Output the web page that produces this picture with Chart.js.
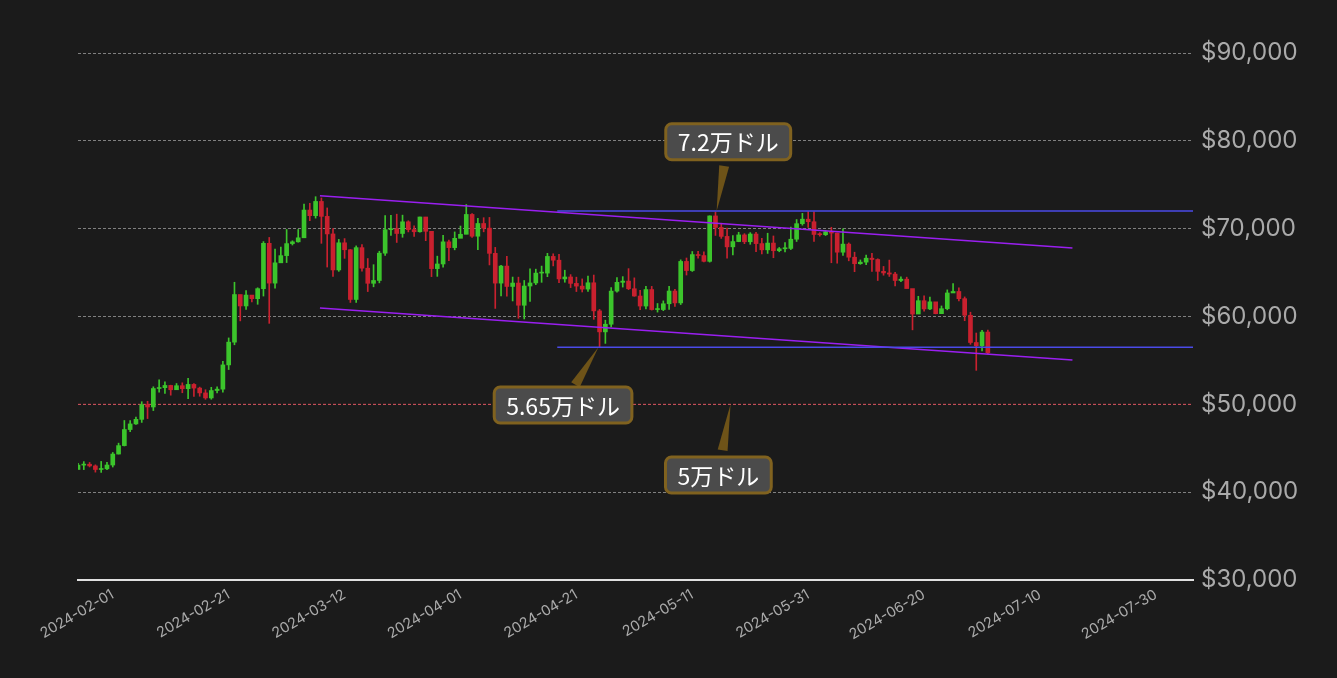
<!DOCTYPE html>
<html>
<head>
<meta charset="utf-8">
<script src="https://cdn.jsdelivr.net/npm/chart.js@4"></script>
<style>
  html, body { margin: 0; padding: 0; background: #1b1b1b; }
  #wrap { width: 1337px; height: 678px; }
</style>
</head>
<body>
<div id="wrap"><canvas id="c"></canvas></div>
<script>
// daily candles, first one at 2024-01-26 on the chart's axis
const firstDay = -6;
const tickDays = [0, 20, 40, 60, 80, 100, 120, 140, 160, 180];
const tickLabels = ['2024-02-01', '2024-02-21', '2024-03-12', '2024-04-01', '2024-04-21',
  '2024-05-11', '2024-05-31', '2024-06-20', '2024-07-10', '2024-07-30'];

const closes = [
  43080,43180,42990,42580,42660,43090,44340,45300,47130,47770,48290,49960,49700,51800,51900,52150,51660,52120,51780,52270,51850,51300,50730,51570,51730,54490,57080,62500,61200,
  62440,62030,63170,68330,63800,66110,66930,68300,68500,68960,72120,71480,73100,71400,69400,65300,68390,67600,61940,67840,65500,63780,64100,67210,69880,69990,69450,70780,69890,69650,71330,
  69700,65450,65980,68500,67840,68900,69360,71620,69140,70590,70060,67190,63800,65740,63420,63810,61280,63470,63820,64940,64940,66840,66410,64280,64500,63770,63460,63120,63840,60640,
  58250,59120,62890,63890,64030,63160,62330,61190,63070,60790,60790,61450,62900,61550,66270,65230,67050,66940,66280,71450,70140,69120,67930,68530,69290,68510,69390,68300,67590,68360,67490,
  67710,67750,68800,70570,71080,70790,69340,69310,69650,69500,67320,68240,66750,66010,66190,66640,66490,65140,64960,64830,64100,64250,63180,60280,61800,60860,61670,60320,60890,62680,
  62850,62030,60140,57040,56660,58230,55860
];
const opens = [
  42580,43080,43180,42990,42580,42660,43090,44340,45300,47130,47770,48290,49960,49700,51800,51900,52150,51660,52120,51780,52270,51850,51300,50730,51570,51730,54490,57080,62500,
  61200,62440,62030,63170,68330,63800,66110,66930,68300,68500,68960,72120,71480,73100,71400,69400,65300,68390,67600,61940,67840,65500,63780,64100,67210,69880,69990,69450,70780,69890,69650,
  71330,69700,65450,65980,68500,67840,68900,69360,71620,69140,70590,70060,67190,63800,65740,63420,63810,61280,63470,63820,64940,64940,66840,66410,64280,64500,63770,63460,63120,63840,
  60640,58250,59120,62890,63890,64030,63160,62330,61190,63070,60790,60790,61450,62900,61550,66270,65230,67050,66940,66280,71450,70140,69120,67930,68530,69290,68510,69390,68300,67590,68360,
  67490,67710,67750,68800,70570,71080,70790,69340,69310,69650,69500,67320,68240,66750,66010,66190,66640,66490,65140,64960,64830,64100,64250,63180,60280,61800,60860,61670,60320,60890,
  62680,62850,62030,60140,57040,56660,58230
];
const highs = [
  43290,43480,43380,43110,43500,43390,44520,45580,48160,48150,48540,50300,50350,52000,52800,52560,52180,52370,52450,52960,52370,51960,51660,51940,51990,54900,57560,63900,62450,
  62960,62410,63270,68530,69000,67690,67890,69910,68620,69910,72800,72890,73640,73500,72360,70000,68780,68870,67630,68040,68200,66600,65900,67430,71500,71510,71650,71540,70900,70320,71330,
  71300,69680,66870,69240,68710,69630,70300,72750,71730,71180,71250,71280,67870,65840,66840,64490,64480,64100,65440,65390,65740,67190,67140,67090,65270,64770,64480,64280,64610,64720,
  60810,59580,63300,64420,64540,65450,64400,62980,63430,63430,61480,61780,63430,63100,66450,66660,67400,67430,67370,71460,71900,70620,70060,69210,69590,69430,69550,69580,68890,69480,69170,
  67860,68430,70180,71040,71740,71950,71910,69550,69810,70160,69500,69980,68380,67320,66440,66980,67190,66570,65700,66420,65040,64510,64480,62430,62300,62360,62200,61390,61200,63030,
  63740,63270,62230,60490,58120,58430,58450
];
const lows = [
  42780,42570,42870,42280,42250,42550,42860,44340,45260,46880,47710,47940,48380,49290,51390,51250,51040,51690,51320,50640,50900,50920,50570,50580,51300,51380,53960,56780,59500,
  60800,61670,61390,62330,59220,63230,66130,66140,68140,68460,69030,70910,71200,68330,65630,64560,65140,66620,61600,61600,65170,62840,63380,63830,66940,69240,68430,69020,69630,69130,69590,
  68630,64540,64570,65630,66370,67590,69180,69410,69010,67610,69640,65870,60920,62330,62320,61770,59800,59720,61730,63630,63890,64530,65760,63860,63900,63290,62840,62790,62850,59680,
  56560,56940,58820,62770,63350,63060,62300,60780,60850,60730,60500,60660,60800,61150,61360,64720,65130,66640,66220,66190,69230,68890,66650,67000,68510,68290,68220,67370,67120,67180,66690,
  67370,67360,67620,68540,70400,70140,68540,69150,69220,66120,66070,66950,66340,65100,65940,65900,65140,64100,64700,64560,63470,63970,63250,58480,60650,60620,60770,60300,60590,60760,
  62850,61780,59520,56830,53870,56090,55740
];

// reference lines [x1, y1, x2, y2] in axis units
const channelTop = [35.75, 73740, 165.6, 67810];
const channelBottom = [35.75, 60980, 165.6, 55060];
const resistance = 72000;
const support = 56500;
const levelStart = 76.7;
const redLevel = 50000;

const notes = [
  { text: '7.2万ドル', x: 106.2, y: 79900, tipX: 104.2, tipY: 72000 },
  { text: '5.65万ドル', x: 77.7, y: 49930, tipX: 83.8, tipY: 56500 },
  { text: '5万ドル', x: 104.5, y: 41960, tipX: 106.6, tipY: 50000 }
];

const GREEN = '#3cc52c';
const RED = '#c9212f';
const up = closes.map((c, i) => c >= opens[i]);
const xs = closes.map((c, i) => firstDay + i);

const overlay = {
  id: 'overlay',
  beforeDatasetsDraw(chart) {
    const { ctx, chartArea: a, scales: { x, y } } = chart;
    ctx.save();
    ctx.strokeStyle = '#d04450';
    ctx.lineWidth = 1;
    ctx.setLineDash([3, 2]);
    ctx.beginPath();
    ctx.moveTo(a.left, y.getPixelForValue(redLevel));
    ctx.lineTo(a.right, y.getPixelForValue(redLevel));
    ctx.stroke();
    ctx.restore();
  },
  afterDatasetsDraw(chart) {
    const { ctx, chartArea: a, scales: { x, y } } = chart;
    ctx.save();
    ctx.lineWidth = 1.5;
    ctx.strokeStyle = '#9a1ff0';
    [channelTop, channelBottom].forEach(l => {
      ctx.beginPath();
      ctx.moveTo(x.getPixelForValue(l[0]), y.getPixelForValue(l[1]));
      ctx.lineTo(x.getPixelForValue(l[2]), y.getPixelForValue(l[3]));
      ctx.stroke();
    });
    ctx.strokeStyle = '#4b4be8';
    [resistance, support].forEach(v => {
      ctx.beginPath();
      ctx.moveTo(x.getPixelForValue(levelStart), y.getPixelForValue(v));
      ctx.lineTo(a.right, y.getPixelForValue(v));
      ctx.stroke();
    });

    ctx.font = '23px "Noto Sans CJK JP", "Noto Sans", sans-serif';
    ctx.textAlign = 'center';
    ctx.textBaseline = 'middle';
    notes.forEach(n => {
      const cx = x.getPixelForValue(n.x), cy = y.getPixelForValue(n.y);
      const tx = x.getPixelForValue(n.tipX), ty = y.getPixelForValue(n.tipY);
      const w = ctx.measureText(n.text).width + 24, h = 36;
      // pointer wedge
      const dx = tx - cx, dy = ty - cy, len = Math.hypot(dx, dy);
      const nx = -dy / len * 5, ny = dx / len * 5;
      const bx = cx + dx * 0.35, by = cy + dy * 0.35;
      ctx.fillStyle = '#6e5318';
      ctx.beginPath();
      ctx.moveTo(bx + nx, by + ny);
      ctx.lineTo(bx - nx, by - ny);
      ctx.lineTo(tx, ty);
      ctx.closePath();
      ctx.fill();
      // box
      ctx.fillStyle = '#4b4b4b';
      ctx.strokeStyle = '#80621f';
      ctx.lineWidth = 3;
      ctx.beginPath();
      ctx.roundRect(cx - w / 2, cy - h / 2, w, h, 6);
      ctx.fill();
      ctx.stroke();
      ctx.fillStyle = '#ffffff';
      ctx.fillText(n.text, cx, cy + 1);
    });
    ctx.restore();
  }
};

new Chart(document.getElementById('c'), {
  type: 'bar',
  data: {
    datasets: [
      {
        data: xs.map((d, i) => ({ x: d, y: [lows[i], highs[i]] })),
        backgroundColor: up.map(u => u ? GREEN : RED),
        barThickness: 1,
        grouped: false
      },
      {
        data: xs.map((d, i) => ({ x: d, y: [opens[i], closes[i]] })),
        backgroundColor: up.map(u => u ? GREEN : RED),
        barThickness: 4,
        minBarLength: 1,
        grouped: false
      }
    ]
  },
  options: {
    responsive: true,
    maintainAspectRatio: false,
    animation: false,
    layout: { padding: { top: 53, left: 78, right: 0, bottom: 0 } },
    plugins: { legend: { display: false }, tooltip: { enabled: false } },
    scales: {
      x: {
        type: 'linear',
        min: -6,
        max: 186.4,
        offset: false,
        afterBuildTicks: s => { s.ticks = tickDays.map(v => ({ value: v })); },
        afterFit: s => { s.height = 98; s.paddingLeft = 0; s.paddingRight = 0; },
        ticks: {
          color: '#aaaaaa',
          padding: 6,
          font: { family: 'Inter', size: 14.5 },
          minRotation: 30,
          maxRotation: 30,
          autoSkip: false,
          callback: v => tickLabels[tickDays.indexOf(v)]
        },
        grid: { display: false, drawTicks: false },
        border: { color: '#e0e0e0', width: 2 }
      },
      y: {
        position: 'right',
        min: 30000,
        max: 90000,
        afterFit: s => { s.width = 144; s.paddingTop = 0; s.paddingBottom = 0; },
        ticks: {
          stepSize: 10000,
          color: '#aaaaaa',
          padding: 8,
          font: { family: 'Inter', size: 24 },
          callback: v => '$' + v.toLocaleString('en-US')
        },
        grid: { color: '#9a9a9a', lineWidth: 0.8, drawTicks: false },
        border: { display: false, dash: [3, 2] }
      }
    }
  },
  plugins: [overlay]
});
</script>
</body>
</html>
